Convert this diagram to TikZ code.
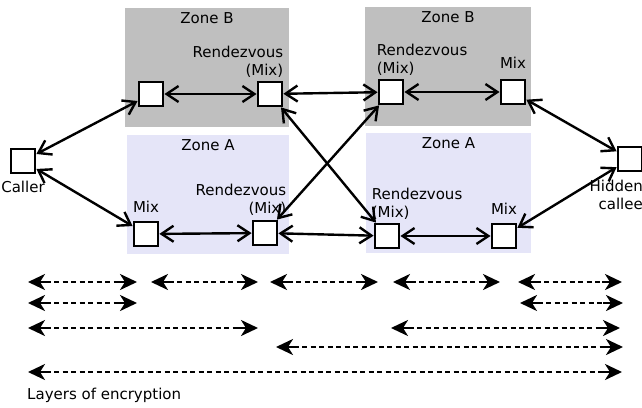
\documentclass[tikz,border=0pt]{standalone}
\usepackage{fontspec}
\setmainfont{DejaVu Sans}
\usetikzlibrary{arrows.meta}
\definecolor{zoneBgray}{RGB}{191,191,191}
\definecolor{zoneAblue}{RGB}{229,229,248}

\begin{document}
\begin{tikzpicture}[x=1pt, y=-1pt,
	font=\fontsize{15}{18}\selectfont,
	box/.style = {draw, line width=2.8pt, fill=white, minimum size=24pt, inner sep=0pt},
	zone/.style = {inner sep=0pt, outer sep=0pt},
	lbl/.style = {inner sep=0pt},
	link/.style = {{Straight Barb[length=12pt,width=16pt,line width=2.4pt]}-{Straight Barb[length=12pt,width=16pt,line width=2.4pt]}, line width=2.4pt},
	layer/.style = {line width=2.6pt, dash pattern=on 5pt off 3.5pt, shorten <=9pt, shorten >=9pt},
	layertip/.style = {-{Stealth[length=17pt,width=16pt,inset=5pt]}, solid, line width=2.6pt}]
	\useasboundingbox (0,0) rectangle (642,407);
	% zones
	\node[zone, fill=zoneBgray, minimum width=164pt, minimum height=119pt] (zB1) at (207,67.5){};
	\node[zone, fill=zoneAblue, minimum width=162pt, minimum height=119pt] (zA1) at (208,194.5){};
	\node[zone, fill=zoneBgray, minimum width=166pt, minimum height=119pt] (zB2) at (448,66.5){};
	\node[zone, fill=zoneAblue, minimum width=165pt, minimum height=120pt] (zA2) at (448.5,193){};
	\node[lbl, anchor=north] (zB1t) at ([yshift=-4pt]zB1.north){Zone B};
	\node[lbl, anchor=north] (zA1t) at ([yshift=-4pt]zA1.north){Zone A};
	\node[lbl, anchor=north] (zB2t) at ([yshift=-4pt]zB2.north){Zone B};
	\node[lbl, anchor=north] (zA2t) at ([yshift=-4pt]zA2.north){Zone A};
	% mixes
	\node[box] (caller) at (23, 161){};
	\node[box] (mixB1) at (151, 94){};
	\node[box] (rdvB1) at (270, 94){};
	\node[box] (mixA1) at (146, 234){};
	\node[box] (rdvA1) at (265, 233){};
	\node[box] (rdvB2) at (391, 92){};
	\node[box] (mixB2) at (513, 92){};
	\node[box] (rdvA2) at (387, 236){};
	\node[box] (mixA2) at (504, 236){};
	\node[box] (callee) at (630, 159){};
	% labels
	\node[lbl, anchor=north] (callert) at ([yshift=-6pt]caller.south){Caller};
	\node[lbl, anchor=north east, align=right] (calleet) at (643, 180){Hidden\\callee};
	\node[lbl, anchor=south east, align=right] (rdvB1t) at ([yshift=3pt]rdvB1.north east){Rendezvous\\(Mix)};
	\node[lbl, anchor=south east, align=right] (rdvA1t) at ([xshift=8pt, yshift=4pt]rdvA1.north east){Rendezvous\\(Mix)};
	\node[lbl, anchor=south west, align=left] (rdvB2t) at ([xshift=-1pt, yshift=3pt]rdvB2.north west){Rendezvous\\(Mix)};
	\node[lbl, anchor=south west, align=left] (rdvA2t) at ([xshift=-2pt, yshift=3pt]rdvA2.north west){Rendezvous\\(Mix)};
	\node[lbl, anchor=south] (mixA1t) at ([yshift=8pt]mixA1.north){Mix};
	\node[lbl, anchor=south] (mixB2t) at ([yshift=10pt]mixB2.north){Mix};
	\node[lbl, anchor=south] (mixA2t) at ([yshift=8pt]mixA2.north){Mix};
	% links
	\draw[link] (caller) -- (mixB1);
	\draw[link] (caller) -- (mixA1);
	\draw[link] (mixB1) -- (rdvB1);
	\draw[link] (mixA1) -- (rdvA1);
	\draw[link] (rdvB1) -- (rdvB2);
	\draw[link] (rdvB1) -- (rdvA2);
	\draw[link] (rdvA1) -- (rdvB2);
	\draw[link] (rdvA1) -- (rdvA2);
	\draw[link] (rdvB2) -- (mixB2);
	\draw[link] (rdvA2) -- (mixA2);
	\draw[link] (mixB2) -- (callee);
	\draw[link] (mixA2) -- (callee);
	% layers of encryption
	\foreach \n/\xa/\xb/\y in {a/28/137/282, b/151/258/282, c/270/378/282, d/393/500/282, e/518/622/282,
		f/28/137/303, g/520/623/303, h/28/258/328, i/391/620/328, j/276/623/347, k/28/622/372}{
		\coordinate (\n L) at (\xa,\y);
		\coordinate (\n R) at (\xb,\y);
		\draw[layer] (\n L) -- (\n R);
		\draw[layertip] ([xshift=20pt]\n L) -- (\n L);
		\draw[layertip] ([xshift=-20pt]\n R) -- (\n R);
	}
	\node[lbl, anchor=west] (layerst) at (27, 395){Layers of encryption};
\end{tikzpicture}
\end{document}
